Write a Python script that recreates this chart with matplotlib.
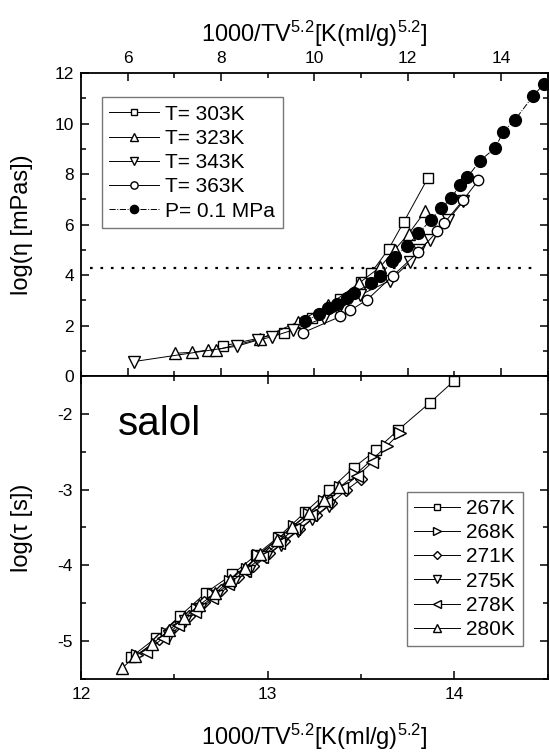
import matplotlib
matplotlib.use('Agg')
import matplotlib.pyplot as plt
from matplotlib.ticker import MultipleLocator

plt.rcParams['font.family'] = ['Liberation Sans', 'DejaVu Sans']
plt.rcParams['mathtext.default'] = 'regular'
plt.rcParams['axes.unicode_minus'] = False

# top panel: log(eta) vs 1000/TV^5.2
t303_x = [8.05, 9.35, 9.95, 10.55, 11.0, 11.21, 11.59, 11.92, 12.43]
t303_y = [1.19, 1.72, 2.3, 3.07, 3.74, 4.07, 5.03, 6.12, 7.84]

t323_x = [7.02, 7.39, 7.72, 7.89, 8.84, 9.66, 10.3, 10.95, 11.41, 11.72, 12.02, 12.37]
t323_y = [0.90, 0.94, 1.03, 1.03, 1.47, 2.15, 2.8, 3.67, 4.32, 5.0, 5.64, 6.52]

t343_x = [6.13, 8.34, 8.80, 9.09, 9.55, 10.2, 10.5, 10.97, 11.62, 12.05, 12.25, 12.47, 12.87, 13.19]
t343_y = [0.57, 1.18, 1.43, 1.55, 1.83, 2.3, 2.6, 3.2, 3.78, 4.52, 5.0, 5.4, 6.2, 6.92]

t363_x = [9.76, 10.56, 10.77, 11.13, 11.68, 12.22, 12.63, 12.78, 13.19, 13.51]
t363_y = [1.72, 2.36, 2.6, 3.02, 3.97, 4.9, 5.73, 6.06, 6.98, 7.75]

p01_x = [9.80, 10.10, 10.29, 10.49, 10.70, 10.85, 11.21, 11.41, 11.66, 11.72, 11.98, 12.23,
         12.49, 12.72, 12.93, 13.12, 13.28, 13.55, 13.87, 14.05, 14.30, 14.69, 14.92]
p01_y = [2.16, 2.46, 2.69, 2.85, 3.08, 3.28, 3.69, 3.97, 4.55, 4.72, 5.14, 5.66,
         6.17, 6.65, 7.05, 7.57, 7.88, 8.54, 9.03, 9.69, 10.16, 11.11, 11.58]

eta_g = 4.3  # dotted level

# bottom panel: log(tau) vs 1000/TV^5.2
k267_x = [12.27, 12.40, 12.53, 12.67, 12.81, 12.94, 13.06, 13.20, 13.33, 13.46, 13.58, 13.70, 13.87, 14.00]
k267_y = [-5.21, -4.96, -4.67, -4.36, -4.12, -3.86, -3.62, -3.30, -3.01, -2.71, -2.48, -2.21, -1.85, -1.56]

k268_x = [12.30, 12.46, 12.62, 12.71, 12.80, 12.89, 12.95, 13.06, 13.14, 13.22, 13.30, 13.39, 13.47, 13.57, 13.64, 13.71]
k268_y = [-5.19, -4.89, -4.58, -4.38, -4.21, -4.05, -3.86, -3.64, -3.48, -3.32, -3.15, -2.96, -2.80, -2.58, -2.42, -2.25]

k271_x = [12.42, 12.50, 12.58, 12.66, 12.75, 12.84, 12.92, 13.01, 13.09, 13.17, 13.26, 13.34, 13.42, 13.50]
k271_y = [-4.97, -4.82, -4.67, -4.49, -4.32, -4.15, -4.01, -3.84, -3.68, -3.52, -3.34, -3.18, -3.01, -2.86]

k275_x = [12.47, 12.56, 12.64, 12.73, 12.82, 12.90, 12.99, 13.07, 13.16, 13.24, 13.33]
k275_y = [-4.93, -4.74, -4.57, -4.40, -4.22, -4.07, -3.89, -3.73, -3.55, -3.39, -3.21]

k278_x = [12.35, 12.44, 12.52, 12.61, 12.70, 12.79, 12.88, 12.97, 13.06, 13.14, 13.23, 13.31, 13.40, 13.48, 13.56]
k278_y = [-5.14, -4.96, -4.79, -4.61, -4.43, -4.25, -4.07, -3.89, -3.70, -3.52, -3.34, -3.17, -2.98, -2.82, -2.64]

k280_x = [12.22, 12.29, 12.38, 12.47, 12.55, 12.63, 12.72, 12.80, 12.88, 12.96, 13.05, 13.13, 13.22, 13.30, 13.38]
k280_y = [-5.36, -5.20, -5.04, -4.86, -4.70, -4.53, -4.37, -4.19, -4.03, -3.85, -3.66, -3.49, -3.31, -3.14, -2.97]

xlab = '1000/TV$^{5.2}$[K(ml/g)$^{5.2}$]'

fig = plt.figure(figsize=(5.5, 7.55), dpi=100)
ax1 = fig.add_axes([0.147, 0.502, 0.849, 0.401])
ax2 = fig.add_axes([0.147, 0.1007, 0.849, 0.4013])

mfc = dict(color='black', lw=0.7, mfc='white', mec='black', mew=1.0)

# top panel
ax1.plot(t303_x, t303_y, marker='s', ms=6.5, label='T= 303K', **mfc)
ax1.plot(t323_x, t323_y, marker='^', ms=8.5, label='T= 323K', **mfc)
ax1.plot(t343_x, t343_y, marker='v', ms=8.5, label='T= 343K', **mfc)
ax1.plot(t363_x, t363_y, marker='o', ms=7.5, label='T= 363K', **mfc)
ax1.plot(p01_x, p01_y, marker='o', ms=8.5, color='black', lw=0.7, ls='-.',
         mfc='black', mec='black', label='P= 0.1 MPa')
ax1.axhline(eta_g, xmin=0.02, xmax=0.98, color='black', ls=(0, (1.2, 3.5)), lw=1.6)

ax1.set_xlim(5, 15)
ax1.set_ylim(0, 12)
ax1.xaxis.set_major_locator(MultipleLocator(2))
ax1.xaxis.set_minor_locator(MultipleLocator(1))
ax1.yaxis.set_major_locator(MultipleLocator(2))
ax1.yaxis.set_minor_locator(MultipleLocator(1))
ax1.tick_params(which='both', direction='in', top=True, bottom=True, left=True, right=True,
                labeltop=True, labelbottom=False, labelsize=12.5, width=1.1, pad=5)
ax1.tick_params(which='major', length=6)
ax1.tick_params(which='minor', length=3.5)
ax1.xaxis.set_label_position('top')
ax1.set_xlabel(xlab, fontsize=17)
ax1.xaxis.set_label_coords(0.5, 1.105)
ax1.set_ylabel('log(η [mPas])', fontsize=17)
ax1.yaxis.set_label_coords(-0.103, 0.5)
leg1 = ax1.legend(loc='upper left', bbox_to_anchor=(0.045, 0.92), borderaxespad=0,
                  fontsize=15, frameon=True, fancybox=False, edgecolor='#555555',
                  handlelength=2.4, handletextpad=0.3, labelspacing=0.25,
                  markerscale=0.7, borderpad=0.35)
leg1.get_frame().set_linewidth(1.0)

# bottom panel
ax2.plot(k267_x, k267_y, marker='s', ms=7, label='267K', **mfc)
ax2.plot(k268_x, k268_y, marker='>', ms=8, label='268K', **mfc)
ax2.plot(k271_x, k271_y, marker='D', ms=6, label='271K', **mfc)
ax2.plot(k275_x, k275_y, marker='v', ms=8, label='275K', **mfc)
ax2.plot(k278_x, k278_y, marker='<', ms=8, label='278K', **mfc)
ax2.plot(k280_x, k280_y, marker='^', ms=8, label='280K', **mfc)
ax2.text(0.08, 0.905, 'salol', transform=ax2.transAxes, fontsize=29, va='top')

ax2.set_xlim(12, 14.5)
ax2.set_ylim(-5.5, -1.5)
ax2.xaxis.set_major_locator(MultipleLocator(1))
ax2.xaxis.set_minor_locator(MultipleLocator(0.5))
ax2.yaxis.set_major_locator(MultipleLocator(1))
ax2.yaxis.set_minor_locator(MultipleLocator(0.5))
ax2.tick_params(which='both', direction='in', top=True, bottom=True, left=True, right=True,
                labelsize=12.5, width=1.1, pad=6)
ax2.tick_params(which='major', length=6)
ax2.tick_params(which='minor', length=3.5)
ax2.set_xlabel(xlab, fontsize=17)
ax2.xaxis.set_label_coords(0.5, -0.14)
ax2.set_ylabel('log(τ [s])', fontsize=17)
ax2.yaxis.set_label_coords(-0.103, 0.5)
leg2 = ax2.legend(loc='upper right', bbox_to_anchor=(0.946, 0.618), borderaxespad=0,
                  fontsize=15, frameon=True, fancybox=False, edgecolor='#555555',
                  handlelength=2.2, handletextpad=0.3, labelspacing=0.25,
                  markerscale=0.7, borderpad=0.35)
leg2.get_frame().set_linewidth(1.0)

for ax in (ax1, ax2):
    for s in ax.spines.values():
        s.set_linewidth(1.3)

fig.savefig('out.png', dpi=100)
